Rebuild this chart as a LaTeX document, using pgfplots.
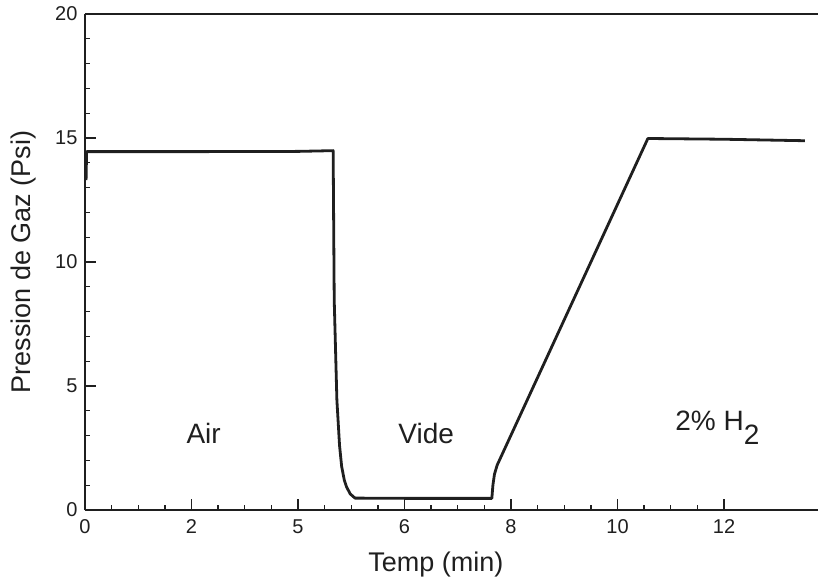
\documentclass[border=0pt]{standalone}
\usepackage{fontspec}
\setmainfont{Liberation Sans}
\usepackage{pgfplots}
\pgfplotsset{compat=1.18}
\begin{document}
\begin{tikzpicture}
\begin{axis}[
  scale only axis,
  width=733pt, height=496pt,
  xmin=0, xmax=13.765, ymin=0, ymax=20,
  axis x line*=bottom, axis y line*=left,
  axis line style={-, line width=2pt, color=black!88},
  xtick={0,2,4,6,8,10,12},
  xticklabels={0,2,5,6,8,10,12},
  ytick={0,5,10,15,20},
  minor x tick num=3, minor y tick num=4,
  tick align=inside,
  major tick length=11pt, minor tick length=5pt,
  every tick/.style={black!88, line width=1.3pt},
  /pgf/number format/assume math mode=true,
  tick label style={font=\fontsize{20}{22}\selectfont, color=black!88},
  xticklabel style={yshift=-6pt},
  yticklabel style={xshift=-4pt},
  xlabel={Temp (min)},
  ylabel={Pression de Gaz (Psi)},
  label style={font=\fontsize{27}{30}\selectfont, color=black!88},
  xlabel style={at={(axis cs:6.59,0)}, anchor=north, yshift=-38pt},
  ylabel style={at={(rel axis cs:0,0.5)}, anchor=south, xshift=0pt, yshift=45pt},
  clip=false,
]
\addplot[black!88, line width=2.8pt, line join=round] coordinates {
  (0.02,13.3) (0.03,14.45) (2.0,14.45) (4.0,14.46) (4.66,14.49)
  (4.68,8.47) (4.73,4.44) (4.78,2.6) (4.82,1.75) (4.87,1.2) (4.91,0.94)
  (4.98,0.65) (5.07,0.48) (6.0,0.47) (7.64,0.47)
  (7.66,1.0) (7.69,1.45) (7.74,1.81) (10.57,14.98) (12.0,14.95) (13.52,14.89)
};
\draw[black!88, line width=2pt] (rel axis cs:0,1) -- (rel axis cs:1,1);
\node[anchor=base west, font=\fontsize{28}{30}\selectfont, black!88] at (axis cs:1.84,2.70) {Air};
\node[anchor=base west, font=\fontsize{28}{30}\selectfont, black!88] at (axis cs:5.82,2.70) {Vide};
\node[anchor=base west, font=\fontsize{28}{30}\selectfont, black!88] at (axis cs:11.02,3.19) {2\% H\raisebox{-14pt}{2}};
\end{axis}
\pgfresetboundingbox
\path (-85pt,-77pt) rectangle (733pt,510pt);
\end{tikzpicture}
\end{document}
